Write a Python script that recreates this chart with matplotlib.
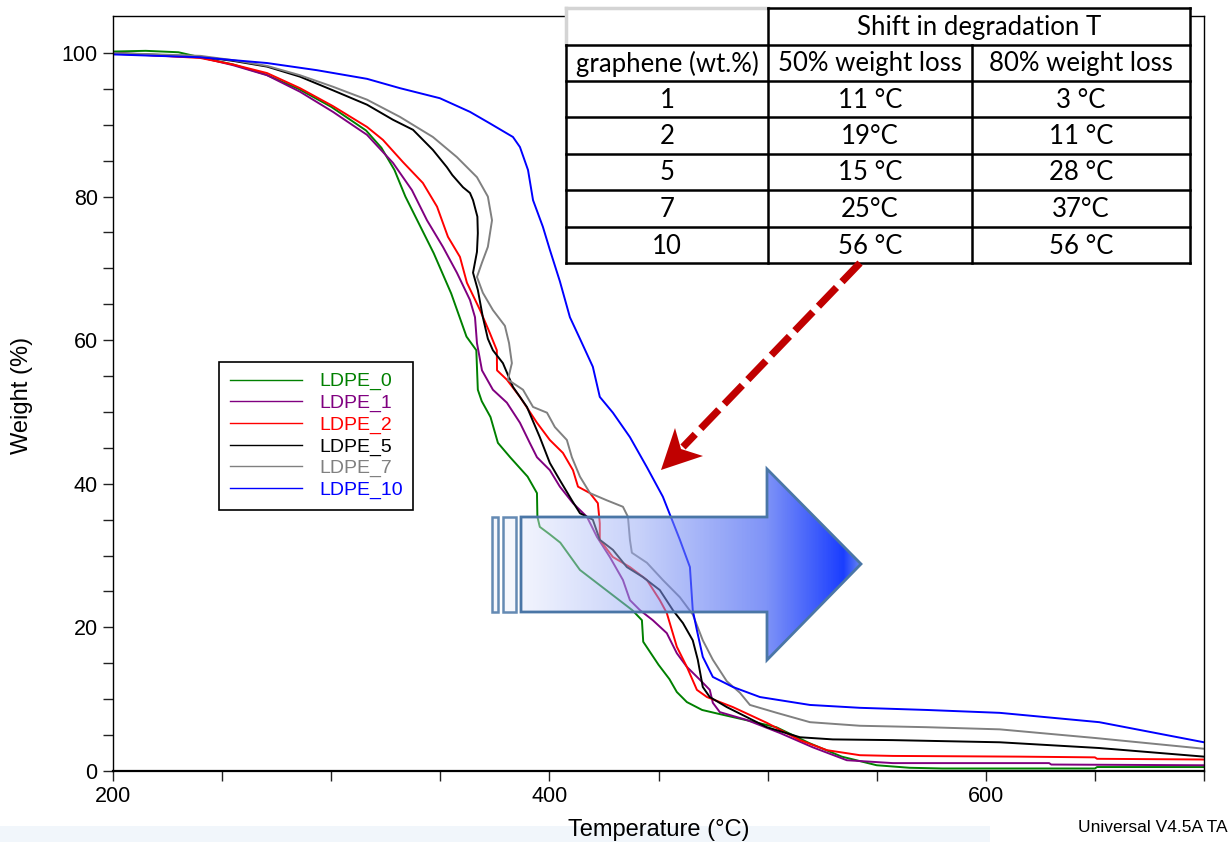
import numpy as np
import matplotlib
matplotlib.use("Agg")
import matplotlib.pyplot as plt
from matplotlib.patches import Polygon, Rectangle
from matplotlib.lines import Line2D

plt.rcParams['font.family'] = ['Liberation Sans', 'DejaVu Sans']

# ---------------- data ----------------
series_names = ["LDPE_0", "LDPE_1", "LDPE_2", "LDPE_5", "LDPE_7", "LDPE_10"]
series_colors = ["#008000", "#800080", "#ff0000", "#000000", "#808080", "#0000ff"]

t_ldpe0 = [200, 215, 230, 240, 255, 270, 285, 300, 316, 323, 329, 334, 347, 350, 355, 362, 366.5,
           367.2, 369, 373, 376.4, 382, 390, 394.3, 394.5, 395.6, 400, 405, 414, 426, 438, 442.4, 443,
           450, 455, 458.4, 463, 470, 477, 490, 504, 519, 534, 550, 565, 580, 650, 651, 700]
w_ldpe0 = [100.2, 100.3, 100.1, 99.4, 98.4, 97.0, 95.0, 92.5, 89.2, 86.8, 83.7, 80.0, 72.1, 70.0, 66.5,
           60.5, 58.6, 53.1, 51.5, 49.3, 45.7, 43.7, 41.0, 38.7, 35.4, 34.0, 33.0, 31.8, 28.0, 25.2, 22.4,
           21.0, 18.0, 14.8, 12.8, 11.0, 9.6, 8.5, 8.0, 7.1, 6.1, 3.9, 2.0, 0.8, 0.45, 0.35, 0.35, 0.55, 0.55]

t_ldpe1 = [200, 240, 255, 270.6, 285.7, 300.8, 316.4, 328.3, 337, 343.9, 351.2, 357.6, 363.6, 365.9,
           366.8, 369.1, 374.1, 380.5, 386.5, 391, 394.3, 400.2, 404.8, 410.8, 417.2, 421.8, 427.7, 433.7,
           436.9, 441.5, 447.4, 453.8, 458.4, 463, 469, 473.5, 474.9, 478.1, 490.5, 505.6, 520.7, 536.3,
           557.4, 615.6, 629, 630, 700]
w_ldpe1 = [99.9, 99.4, 98.3, 96.9, 94.6, 91.8, 88.6, 84.7, 80.9, 76.7, 73.0, 69.4, 65.6, 63.2, 59.6,
           55.8, 53.1, 51.3, 48.5, 45.7, 43.7, 41.9, 39.6, 37.3, 35.4, 32.6, 29.8, 26.6, 23.8, 22.4, 21.0,
           19.2, 16.4, 14.5, 12.7, 11.3, 9.5, 8.2, 7.1, 5.3, 3.3, 1.5, 1.1, 1.1, 1.1, 0.9, 0.8]

t_ldpe2 = [200, 240, 255, 270.6, 285.7, 300.8, 316.4, 323.7, 332.9, 342, 348.5, 353.5, 359, 362.2,
           368.2, 372.7, 375.9, 376, 380.5, 386.5, 394.3, 400.2, 406.2, 410.8, 413.1, 418.6, 422.2, 423.1,
           423.1, 429.1, 436.9, 444.7, 450.6, 453.8, 458.4, 463, 467.6, 472.2, 484.1, 499.7, 514.8, 527.2,
           542.3, 557.4, 615.6, 650, 651, 700]
w_ldpe2 = [100.0, 99.3, 98.4, 97.2, 95.1, 92.6, 89.7, 87.9, 84.8, 81.9, 78.6, 74.4, 71.6, 68.0, 64.2,
           61.0, 58.6, 55.8, 54.5, 52.1, 48.5, 46.1, 44.3, 41.9, 39.6, 38.7, 37.3, 34.5, 32.2, 29.8, 28.4,
           26.6, 23.8, 22.0, 17.3, 14.5, 11.3, 10.3, 8.9, 6.7, 4.3, 2.9, 2.2, 2.1, 2.0, 1.9, 1.7, 1.6]

t_ldpe5 = [200, 240, 255, 270.6, 285.7, 300.8, 316.4, 328.3, 337.5, 346.6, 353, 355.5, 360.4, 363.6,
           365, 367, 367.2, 366.8, 365, 367.2, 369.5, 371.8, 374.1, 378.7, 383.3, 389.7, 395.6, 400.2,
           404.8, 410.3, 414, 419.9, 423.1, 429.1, 435.5, 442.9, 450.6, 456.6, 461.2, 465.7, 468, 470.3,
           473.5, 481.3, 499.7, 514.8, 529.9, 557.4, 606.4, 652, 700]
w_ldpe5 = [100.0, 99.5, 98.9, 98.1, 96.7, 94.8, 92.8, 90.7, 89.3, 86.5, 84.1, 83.0, 81.3, 80.5, 79.5,
           77.2, 74.9, 72.3, 69.4, 67.0, 63.2, 60.2, 58.6, 56.8, 53.5, 50.7, 46.5, 42.9, 40.5, 37.7, 35.9,
           35.0, 32.2, 30.8, 28.4, 27.0, 25.2, 22.4, 20.6, 18.2, 15.5, 11.7, 10.3, 8.9, 6.1, 4.7, 4.4, 4.3,
           4.0, 3.2, 2.0]

t_ldpe7 = [200, 240, 255, 270.6, 285.7, 300.8, 316.4, 331.5, 346.6, 357.6, 366.8, 371.8, 373.7, 371.8,
           369.1, 366.8, 369.5, 374.1, 379.6, 381.5, 382.8, 381, 387.9, 392.5, 398.9, 402.5, 408, 410.3,
           414, 418.6, 426.3, 433.7, 436, 436.9, 437.8, 444.7, 452, 459.8, 465.7, 470.3, 474.9, 481.3,
           487.3, 491.9, 504.2, 519.4, 542.3, 573, 606.4, 650, 700]
w_ldpe7 = [100.0, 99.6, 99.0, 98.2, 96.9, 95.3, 93.5, 91.1, 88.3, 85.5, 82.7, 80.0, 76.7, 73.0, 70.8,
           68.8, 66.6, 64.2, 62.0, 59.6, 56.8, 54.5, 53.1, 50.7, 49.9, 47.9, 46.1, 43.7, 41.0, 38.7, 37.7,
           36.8, 35.4, 32.2, 30.4, 29.0, 26.6, 24.2, 21.8, 18.2, 15.5, 12.5, 10.9, 9.2, 8.1, 6.8, 6.3, 6.1,
           5.8, 4.6, 3.1]

t_ldpe10 = [200, 240, 270.6, 293.5, 316.4, 331.5, 349.8, 363.6, 372.7, 383.3, 386.5, 390.2, 392.5, 397,
            400.2, 404.8, 409.4, 414, 419.9, 423.1, 429.1, 436.9, 444.7, 452, 459.8, 464.4, 465.7, 467.6,
            470.3, 474.9, 484.1, 496.5, 519.4, 542.3, 573, 606.4, 652, 700]
w_ldpe10 = [99.8, 99.4, 98.6, 97.6, 96.4, 95.1, 93.7, 91.8, 90.2, 88.3, 86.9, 83.7, 79.5, 75.8, 72.6,
            68.2, 63.2, 60.2, 56.3, 52.1, 49.9, 46.5, 42.3, 38.2, 32.2, 28.4, 22.4, 19.6, 15.9, 13.1, 11.7,
            10.3, 9.2, 8.8, 8.5, 8.1, 6.8, 4.0]

x_major = [200, 400, 600]
x_minor = [250, 300, 350, 450, 500, 550, 650, 700]
y_major = [0, 20, 40, 60, 80, 100]
y_minor = [5, 10, 15, 25, 30, 35, 45, 50, 55, 65, 70, 75, 85, 90, 95]

table_header = "Shift in degradation T"
table_cols = ["graphene (wt.%)", "50% weight loss", "80% weight loss"]
graphene_wt = ["1", "2", "5", "7", "10"]
shift_50 = ["11 °C", "19°C", "15 °C", "25°C", "56 °C"]
shift_80 = ["3 °C", "11 °C", "28 °C", "37°C", "56 °C"]

# ---------------- figure ----------------
W_PX, H_PX = 1230, 842
fig = plt.figure(figsize=(W_PX / 100, H_PX / 100), dpi=100)
fig.patches.append(Rectangle((0, 0), 990 / W_PX, 16 / H_PX, transform=fig.transFigure,
                             facecolor="#f1f6fb", edgecolor="none", zorder=0))

ax = fig.add_axes([113 / W_PX, 71 / H_PX, 1091 / W_PX, 755 / H_PX])
ax.set_zorder(1)

all_t = [t_ldpe0, t_ldpe1, t_ldpe2, t_ldpe5, t_ldpe7, t_ldpe10]
all_w = [w_ldpe0, w_ldpe1, w_ldpe2, w_ldpe5, w_ldpe7, w_ldpe10]
for name, t, w, c in zip(series_names, all_t, all_w, series_colors):
    ax.plot(t, w, color=c, lw=1.4, label=name, solid_joinstyle="round")

ax.set_xlim(200, 700)
ax.set_ylim(0, 105.15)
ax.set_xticks(x_major)
ax.set_xticks(x_minor, minor=True)
ax.set_yticks(y_major)
ax.set_yticks(y_minor, minor=True)
ax.tick_params(which="both", direction="out", length=7, width=1, color="#222222")
ax.tick_params(which="major", labelsize=15.5, pad=4)
for s in ax.spines.values():
    s.set_linewidth(1.0)
ax.spines["bottom"].set_linewidth(1.6)

ax.set_xlabel("Temperature (°C)", fontsize=17)
ax.xaxis.set_label_coords(0.5, -0.078)
ax.xaxis.label.set_va("center")
ax.set_ylabel("Weight (%)", fontsize=17)
ax.yaxis.set_label_coords(-0.0834, 0.498)
ax.yaxis.label.set_va("center")

leg = ax.legend(loc="upper left", bbox_to_anchor=(219 / W_PX, 1 - 362 / H_PX),
                bbox_transform=fig.transFigure, frameon=True, fancybox=False,
                edgecolor="black", framealpha=1, fontsize=14, handlelength=3.7,
                handletextpad=0.9, labelspacing=0.2, borderpad=0.55, borderaxespad=0,
                labelcolor="linecolor")
leg.get_frame().set_linewidth(1.2)
for ln in leg.get_lines():
    ln.set_linewidth(1.0)

fig.text(1228 / W_PX, 1 - 828 / H_PX, "Universal V4.5A TA", ha="right", va="center", fontsize=12.5)

# ---------------- overlay in pixel coordinates ----------------
ov = fig.add_axes([0, 0, 1, 1])
ov.set_zorder(5)
ov.patch.set_alpha(0)
ov.axis("off")

# gradient block arrow
arrow_pts = [(521, 517), (767, 517), (767, 469), (861, 564), (767, 660), (767, 612), (521, 612)]
poly = Polygon(arrow_pts, closed=True, facecolor="none", edgecolor="#4a76a6", lw=2.0, zorder=3)
ov.add_patch(poly)
n = 300
f = np.linspace(0, 1, n)
stops = [0.0, 0.35, 0.72, 0.95, 1.0]
obs_r = [0.95, 0.78, 0.50, 0.10, 0.40]
obs_g = [0.96, 0.82, 0.58, 0.24, 0.52]
obs_b = [0.995, 0.98, 0.97, 1.0, 0.95]
alpha = np.interp(f, [0, 0.6, 0.9, 1.0], [0.45, 0.6, 0.9, 0.95])
img = np.zeros((2, n, 4))
for i, ch in enumerate([obs_r, obs_g, obs_b]):
    o = np.interp(f, stops, ch)
    img[:, :, i] = np.clip(1 - (1 - o) / alpha, 0, 1)
img[:, :, 3] = alpha
im = ov.imshow(img, extent=(521, 861, 660, 469), aspect="auto", interpolation="bilinear", zorder=2)
clip = Polygon(arrow_pts, closed=True, transform=ov.transData)
im.set_clip_path(clip)
for (x0, x1) in [(492, 498), (503, 516)]:
    ov.add_patch(Rectangle((x0, 517), x1 - x0, 95, facecolor="#f4f6fd", edgecolor="#4a76a6",
                           lw=1.8, alpha=0.85, zorder=3))

# table
cx = [566, 768, 972, 1190]
ry = [8, 45, 81, 117, 154, 190, 227, 263]
ov.add_patch(Rectangle((cx[0], ry[0]), cx[-1] - cx[0], ry[-1] - ry[0], facecolor="white",
                       edgecolor="none", zorder=4))
tl = dict(color="black", lw=1.8, zorder=6, solid_capstyle="projecting")
ov.plot([cx[0], cx[1]], [ry[0], ry[0]], color="#d4d4d4", lw=2.5, zorder=5)
ov.plot([cx[0], cx[0]], [ry[0], ry[1]], color="#d4d4d4", lw=2.5, zorder=5)
ov.plot([cx[1], cx[3]], [ry[0], ry[0]], **tl)
for y in ry[1:]:
    ov.plot([cx[0], cx[3]], [y, y], **tl)
ov.plot([cx[0], cx[0]], [ry[1], ry[-1]], **tl)
ov.plot([cx[1], cx[1]], [ry[0], ry[-1]], **tl)
ov.plot([cx[2], cx[2]], [ry[1], ry[-1]], **tl)
ov.plot([cx[3], cx[3]], [ry[0], ry[-1]], **tl)
tf = dict(family=["Lato", "DejaVu Sans"], fontsize=18.5, ha="center", va="center", zorder=7)
ov.text((cx[1] + cx[3]) / 2, (ry[0] + ry[1]) / 2 + 1, table_header, **tf)
centers = [(cx[i] + cx[i + 1]) / 2 for i in range(3)]
for i, s in enumerate(table_cols):
    ov.text(centers[i], (ry[1] + ry[2]) / 2 + 1, s, **tf)
for r in range(len(graphene_wt)):
    yc = (ry[r + 2] + ry[r + 3]) / 2 + 1
    for i, s in enumerate([graphene_wt[r], shift_50[r], shift_80[r]]):
        ov.text(centers[i], yc, s, **tf)

# red dashed arrow
ov.add_line(Line2D([860, 683], [263, 447], color="#c00000", lw=5.2,
                   linestyle=(0, (3.6, 1.1)), solid_capstyle="butt", dash_capstyle="butt", zorder=6))
ov.add_patch(Polygon([(661, 470), (675, 428), (681, 449), (703, 456)], closed=True,
                     facecolor="#c00000", edgecolor="none", zorder=6))

ov.set_xlim(0, W_PX)
ov.set_ylim(H_PX, 0)

fig.savefig("out.png", dpi=100)
